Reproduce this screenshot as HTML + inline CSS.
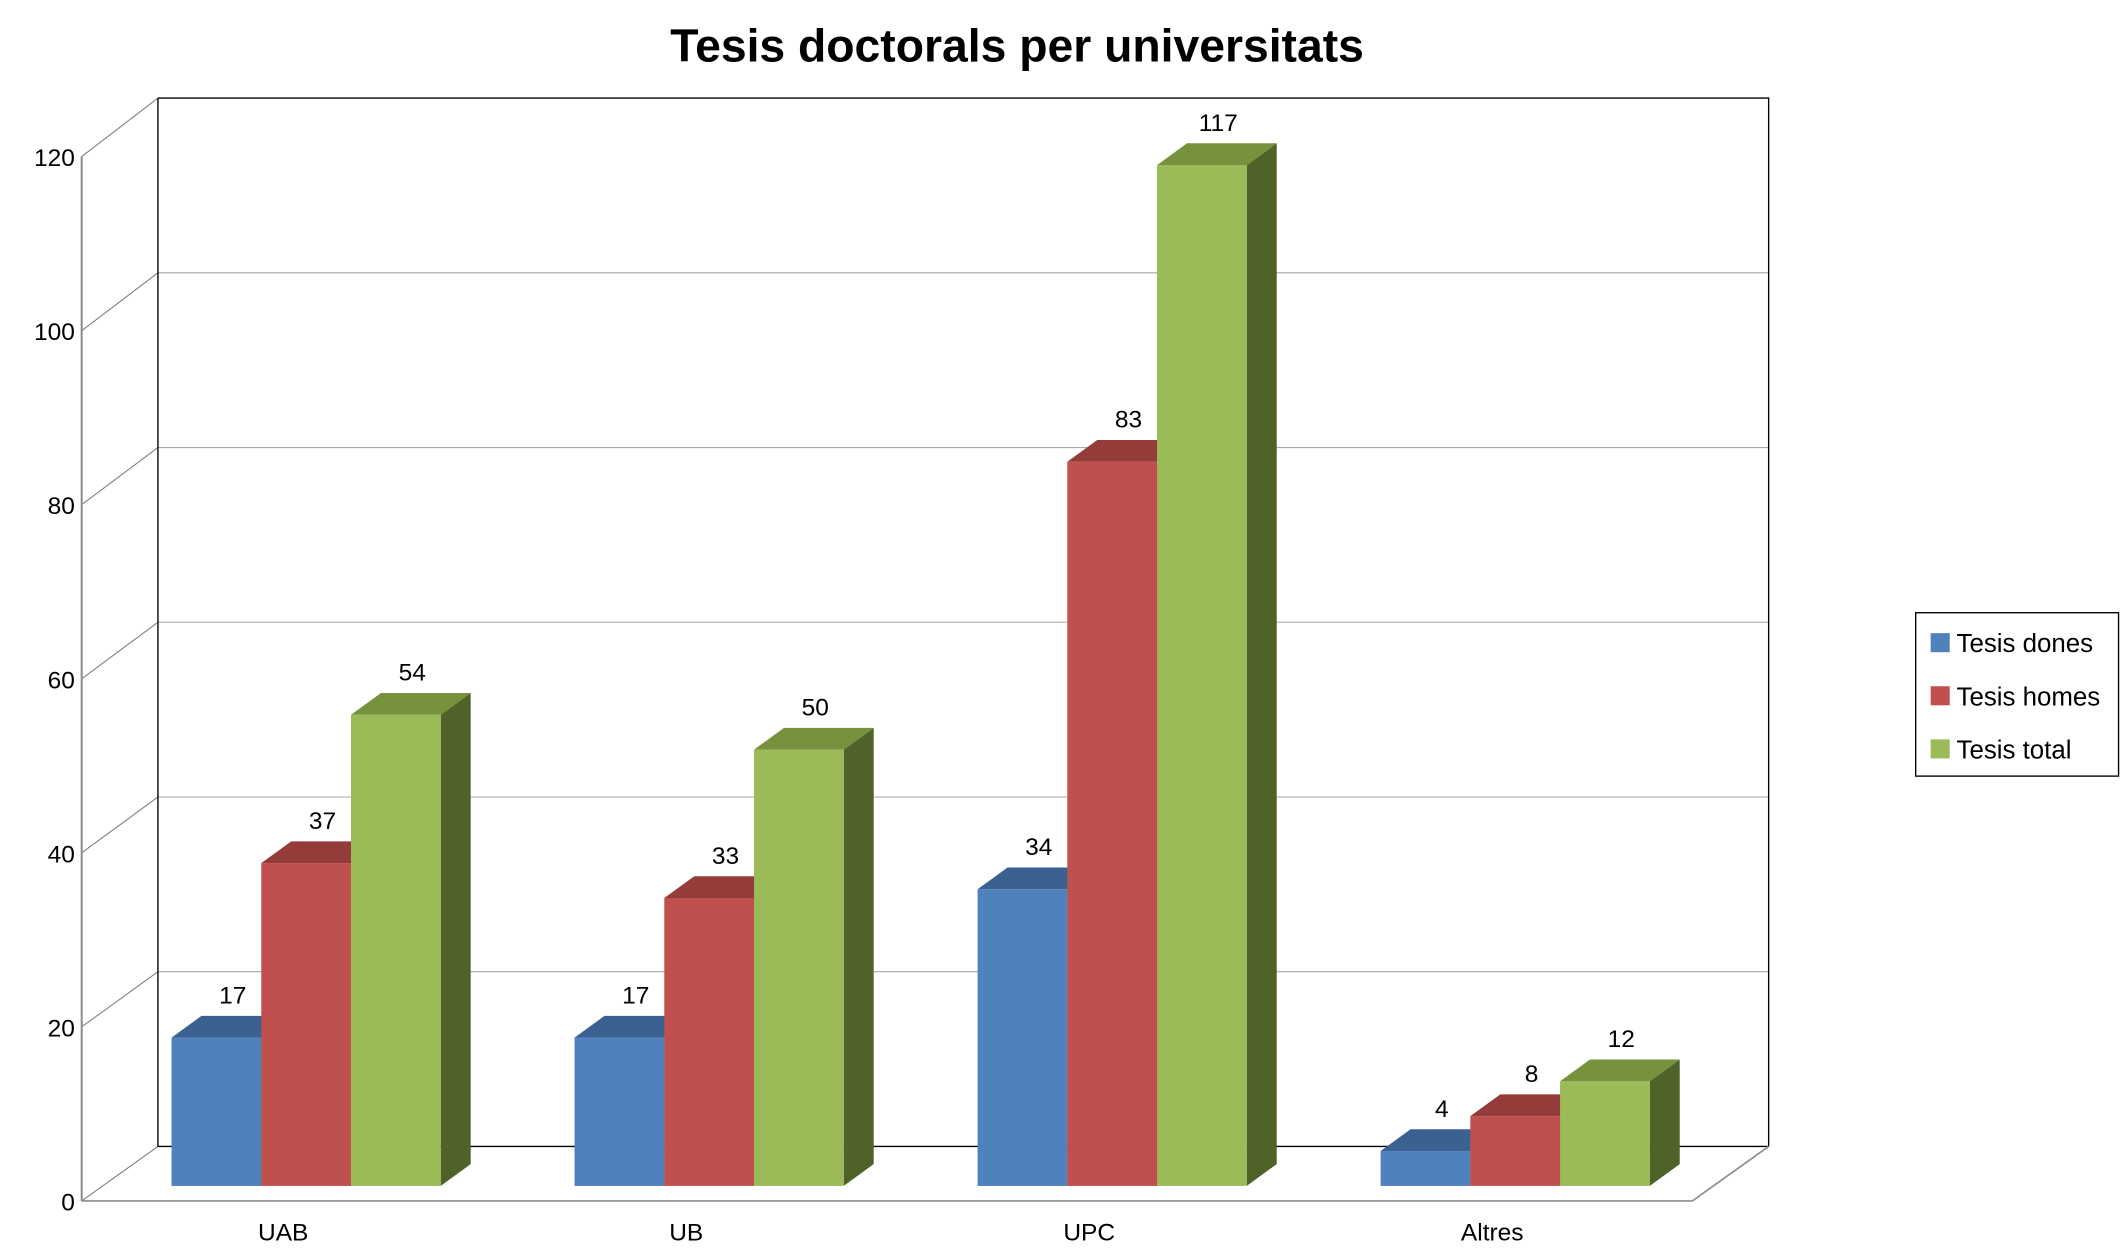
<!DOCTYPE html>
<html><head><meta charset="utf-8"><style>
html,body{margin:0;padding:0;background:#fff}
svg{display:block}
text{font-family:"Liberation Sans",sans-serif;fill:#000}
</style></head><body>
<svg id="chart" width="2124" height="1252" viewBox="0 0 1560 919.5" xmlns="http://www.w3.org/2000/svg">
<text x="747" y="45" text-anchor="middle" font-size="34" font-weight="bold">Tesis doctorals per universitats</text>
<g id="walls"></g>
<g id="bars"></g>
<g>
<rect x="1407" y="450" width="149" height="120" fill="#fff" stroke="#000" stroke-width="1"/>
<g><rect x="1418" y="465" width="14" height="14" fill="#4F81BD"/><text x="1437" y="479" font-size="19">Tesis dones</text></g>
<g><rect x="1418" y="504" width="14" height="14" fill="#C0504D"/><text x="1437" y="518" font-size="19">Tesis homes</text></g>
<g><rect x="1418" y="543" width="14" height="14" fill="#9BBB59"/><text x="1437" y="557" font-size="19">Tesis total</text></g>
</g>
</svg>
<script>
const categories = ["UAB", "UB", "UPC", "Altres"];
const dones = [17, 17, 34, 4];
const homes = [37, 33, 83, 8];
const total = [54, 50, 117, 12];
const ticks = [0, 20, 40, 60, 80, 100, 120];

const NS = "http://www.w3.org/2000/svg";
const svg = document.getElementById("chart");
const walls = document.getElementById("walls");
const barsG = document.getElementById("bars");
function mk(tag, attrs, parent) {
  const e = document.createElementNS(NS, tag);
  for (const k in attrs) e.setAttribute(k, attrs[k]);
  parent.appendChild(e);
  return e;
}
const maxV = 120;
// back wall y, front axis y, bar front plane y
const yBack = v => 842 - v / maxV * 770;
const yFront = v => 882 - v / maxV * 767;
const yBar = v => 871 - v / maxV * 769;
const catW = 296, x0 = 126, bw = 65.9;
const xBar = (ci, si) => x0 + ci * catW + si * bw;
const DX = 22, DY = 16;

// back wall & floor
let e;
e = mk("polygon", {points: "116,842 1299,842 1243,882 60,882", fill: "#fff", stroke: "none"}, walls);


ticks.forEach(t => {
  if (t > 0 && t < maxV) {
    e = mk("line", {x1: 116, x2: 1299, y1: yBack(t), y2: yBack(t), stroke: "#a6a6a6", "stroke-width": 0.8}, walls);
    
    
  }
  e = mk("line", {x1: 60, y1: yFront(t), x2: 116, y2: yBack(t), stroke: "#7f7f7f", "stroke-width": 0.8}, walls);
  
  
  e = mk("text", {x: 55, y: yFront(t) + 7, "text-anchor": "end", "font-size": 18}, walls);
  e.textContent = t;
  
  
});
[["116,72 1299,72 1299,842", "#000"], ["116,72 116,842 1299,842", "#000"]].forEach(p => {
  e = mk("polyline", {points: p[0], fill: "none", stroke: p[1], "stroke-width": 1}, walls);
  
  
});
e = mk("polyline", {points: "60,882 1243,882 1299,842", fill: "none", stroke: "#8c8c8c", "stroke-width": 1.2}, walls);


e = mk("line", {x1: 60, y1: yFront(maxV), x2: 60, y2: 882, stroke: "#8c8c8c", "stroke-width": 1.5}, walls);



categories.forEach((c, i) => {
  e = mk("text", {x: x0 + i * catW + 82, y: 911, "text-anchor": "middle", "font-size": 18}, walls);
  e.textContent = c;
  
  
});

const series = [
  {vals: dones, front: "#4F81BD", top: "#3B6190", side: "#2E4D73", name: "dones"},
  {vals: homes, front: "#C0504D", top: "#943C3A", side: "#7A2F2D", name: "homes"},
  {vals: total, front: "#9BBB59", top: "#76923C", side: "#4F6228", name: "total"}
];
categories.forEach((c, ci) => {
  series.forEach((s, si) => {
    const v = s.vals[ci];
    const x = xBar(ci, si), yt = yBar(v), yb = yBar(0);
    const g = mk("g", {}, barsG);
    
    
    mk("polygon", {points: `${x+bw},${yt} ${x+bw+DX},${yt-DY} ${x+bw+DX},${yb-DY} ${x+bw},${yb}`, fill: s.side}, g);
    mk("rect", {x: x, y: yt, width: bw, height: yb - yt, fill: s.front}, g);
    mk("polygon", {points: `${x},${yt} ${x+DX},${yt-DY} ${x+bw+DX},${yt-DY} ${x+bw},${yt}`, fill: s.top}, g);
    const t = mk("text", {x: x + bw / 2 + 12, y: yt - DY - 9, "text-anchor": "middle", "font-size": 18}, barsG);
    t.textContent = v;
    
    
  });
});
</script>
</body></html>
